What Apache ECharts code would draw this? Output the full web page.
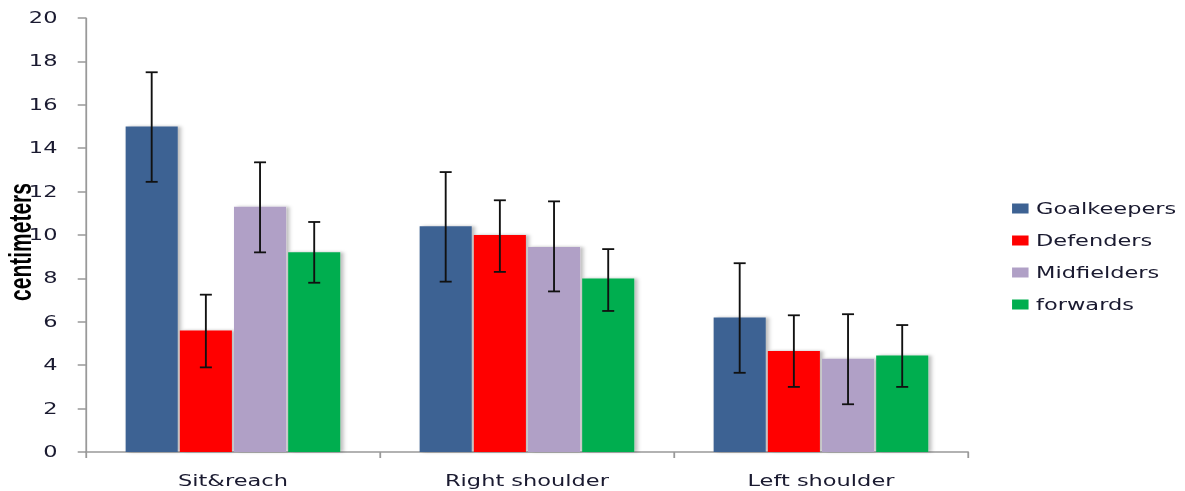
<!DOCTYPE html>
<html><head><meta charset="utf-8">
<script src="https://cdn.jsdelivr.net/npm/echarts@6/dist/echarts.min.js"></script>
<style>
html,body{margin:0;padding:0;background:#fff;overflow:hidden}
#wrap{width:1185px;height:491px;overflow:hidden}
#c{width:790px;height:491px;transform:scaleX(1.5);transform-origin:0 0}
</style>
</head><body><div id="wrap"><div id="c"></div></div>
<script>
const categories = ['Sit&reach', 'Right shoulder', 'Left shoulder'];
const seriesNames = ['Goalkeepers', 'Defenders', 'Midfielders', 'forwards'];
const colors = ['#3d6293', '#ff0000', '#b0a0c6', '#00ae4f'];
const goalkeepers = [15.0, 10.4, 6.2];
const defenders = [5.6, 10.0, 4.65];
const midfielders = [11.3, 9.45, 4.3];
const forwards = [9.2, 8.0, 4.45];
const gkErr = [[12.45, 17.5], [7.85, 12.9], [3.65, 8.7]];
const defErr = [[3.9, 7.25], [8.3, 11.6], [3.0, 6.3]];
const midErr = [[9.2, 13.35], [7.4, 11.55], [2.2, 6.35]];
const fwdErr = [[7.8, 10.6], [6.5, 9.35], [3.0, 5.85]];
const yTicks = [0, 2, 4, 6, 8, 10, 12, 14, 16, 18, 20];

const values = [goalkeepers, defenders, midfielders, forwards];
const errs = [gkErr, defErr, midErr, fwdErr];
const catGap = 0.27, barGapRatio = 0.04;

const chart = echarts.init(document.getElementById('c'), null, { renderer: 'svg' });
const series = [];
values.forEach((v, i) => {
  series.push({
    name: seriesNames[i], type: 'bar', data: v,
    barCategoryGap: '27%', barGap: '4%',
    itemStyle: { color: colors[i], shadowColor: 'rgba(0,0,0,0.28)', shadowBlur: 3, shadowOffsetX: 2, shadowOffsetY: 0 },
    emphasis: { disabled: true }
  });
});
errs.forEach((e, i) => {
  series.push({
    type: 'custom', name: seriesNames[i] + ' err', z: 10,
    data: e.map((r, k) => [k, r[0], r[1]]),
    renderItem: function (params, api) {
      const k = api.value(0);
      const lo = api.coord([k, api.value(1)]);
      const hi = api.coord([k, api.value(2)]);
      const bw = api.size([1, 0])[0];
      const barW = bw * (1 - catGap) / (4 + 3 * barGapRatio);
      const step = barW * (1 + barGapRatio);
      const x = lo[0] + (i - 1.5) * step;
      const cap = 4;
      const st = { stroke: '#111', lineWidth: 1.25 };
      const st2 = { stroke: '#111', lineWidth: 1.8 };
      return { type: 'group', children: [
        { type: 'line', shape: { x1: x, y1: lo[1], x2: x, y2: hi[1] }, style: st },
        { type: 'line', shape: { x1: x - cap, y1: lo[1], x2: x + cap, y2: lo[1] }, style: st2 },
        { type: 'line', shape: { x1: x - cap, y1: hi[1], x2: x + cap, y2: hi[1] }, style: st2 }
      ]};
    },
    encode: { x: 0, y: [1, 2] }
  });
});

chart.setOption({
  animation: false,
  grid: { left: 57.3, right: 144.7, top: 18, bottom: 39, containLabel: false, outerBoundsMode: 'none' },
  legend: {
    data: seriesNames, orient: 'vertical', left: 669.7, top: 196,
    itemWidth: 11, itemHeight: 10, itemGap: 17, icon: 'rect',
    textStyle: { fontFamily: 'DejaVu Sans', fontSize: 15, color: '#1a1a30' }
  },
  xAxis: {
    type: 'category', data: categories,
    axisLine: { lineStyle: { color: '#999', width: 1.5 } },
    axisTick: { show: true, length: 6, lineStyle: { color: '#999', width: 1.2 } },
    axisLabel: { fontFamily: 'DejaVu Sans', fontSize: 15, color: '#1a1a30', margin: 21 }
  },
  yAxis: {
    type: 'value', min: 0, max: 20, interval: 2,
    name: 'centimeters', nameLocation: 'middle', nameGap: 33, nameRotate: 90, nameMoveOverlap: false,
    nameTextStyle: { fontFamily: 'Liberation Sans Narrow, Liberation Sans', fontWeight: 'bold', fontSize: 21, color: '#000', padding: [0, 14, 0, 0] },
    axisLine: { show: true, lineStyle: { color: '#999', width: 1.2 } },
    axisTick: { show: true, inside: false, length: 5.5, lineStyle: { color: '#999', width: 1.5 } },
    splitLine: { show: false },
    axisLabel: { fontFamily: 'DejaVu Sans', fontSize: 15, color: '#1a1a30', margin: 19,
      formatter: v => yTicks.includes(v) ? String(v) : '' }
  },
  series: series
});
</script></body></html>
